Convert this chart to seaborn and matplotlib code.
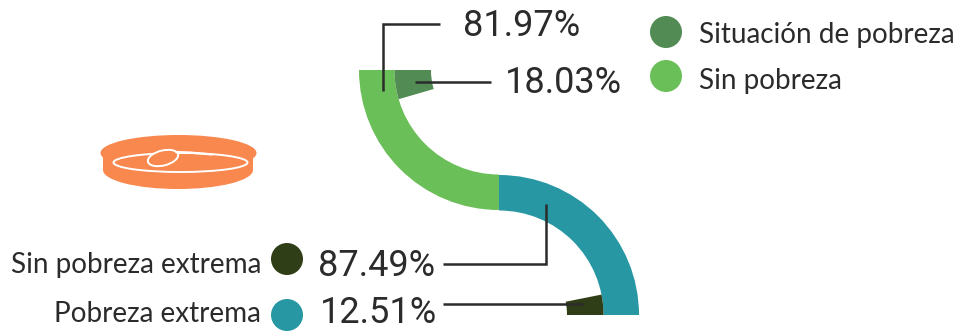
import matplotlib
matplotlib.use("Agg")
import matplotlib.pyplot as plt
import pandas as pd
import seaborn as sns
from matplotlib.patches import Wedge, Ellipse, Rectangle

# Shares of the population, in percent
poverty_labels = ["Situación de pobreza", "Sin pobreza"]
poverty_values = [18.03, 81.97]
extreme_labels = ["Sin pobreza extrema", "Pobreza extrema"]
extreme_values = [87.49, 12.51]

GREEN = "#6BBF59"
DARK_GREEN = "#528B54"
TEAL = "#2697A3"
OLIVE = "#2F3E17"
ORANGE = "#F9884F"
INK = "#2B2B2B"

sns.set_theme(style="white")
plt.rcParams["font.family"] = ["Lato", "DejaVu Sans"]

W, H = 957, 331
fig = plt.figure(figsize=(W / 100, H / 100), dpi=100)
ax = fig.add_axes([0, 0, 1, 1])
ax.set_xlim(0, W)
ax.set_ylim(H, 0)
ax.axis("off")

DEG_PER_PCT = 90 / 100
OUTER, BAND = 140, 35.5
INNER_OUTER, INNER_BAND = 104.5, 36.5


def sweep(*values):
    return sum(values) * DEG_PER_PCT


# Upper quarter ring and its inset wedge
top = (499, 70)
ax.add_patch(Wedge(top, OUTER, 180 - sweep(*poverty_values), 180, width=BAND, fc=GREEN, lw=0))
ax.add_patch(Wedge(top, INNER_OUTER, 180 - sweep(poverty_values[0]), 180,
                   width=INNER_BAND, fc=DARK_GREEN, lw=0))

# Lower quarter ring and its inset wedge
low = (499, 315)
ax.add_patch(Wedge(low, OUTER, 360 - sweep(*extreme_values), 360, width=BAND, fc=TEAL, lw=0))
ax.add_patch(Wedge(low, INNER_OUTER, 360 - sweep(extreme_values[1]), 360,
                   width=INNER_BAND, fc=OLIVE, lw=0))

# Leader lines
for xs, ys in [([440, 383, 383], [24, 24, 91]),
               ([491, 415], [82, 82]),
               ([443, 546, 546], [264, 264, 204]),
               ([443, 583], [304, 304])]:
    ax.plot(xs, ys, color=INK, lw=1.8, solid_joinstyle="miter", solid_capstyle="butt")

# Key dots
dots = pd.DataFrame({
    "x": [666, 666, 287, 287],
    "y": [32, 76, 259, 315],
    "key": poverty_labels + extreme_labels,
})
sns.scatterplot(data=dots, x="x", y="y", hue="key", ax=ax, s=(32 * 0.72) ** 2,
                palette=dict(zip(dots["key"], [DARK_GREEN, GREEN, OLIVE, TEAL])),
                linewidth=0, legend=False, clip_on=False)
ax.set_xlim(0, W)
ax.set_ylim(H, 0)
ax.axis("off")

# Key labels
KEY = dict(fontsize=20.1, color=INK, va="center")
ax.text(699, 34.5, poverty_labels[0], ha="left", **KEY)
ax.text(699, 80.5, poverty_labels[1], ha="left", **KEY)
ax.text(261, 264.5, extreme_labels[0], ha="right", **KEY)
ax.text(261, 313.5, extreme_labels[1], ha="right", **KEY)

# Value labels
VAL = dict(fontsize=26, color=INK, va="center", ha="left", family=["Roboto", "DejaVu Sans"])
ax.text(463, 26, f"{poverty_values[1]:.2f}%", **VAL)
ax.text(505, 83, f"{poverty_values[0]:.2f}%", **VAL)
ax.text(318, 266, f"{extreme_values[0]:.2f}%", **VAL)
ax.text(320, 313, f"{extreme_values[1]:.2f}%", **VAL)

# Plate icon with a spoon
ax.add_patch(Ellipse((178, 170), 150, 38, fc=ORANGE, lw=0))
ax.add_patch(Rectangle((103, 153), 150, 17, fc=ORANGE, lw=0))
ax.add_patch(Ellipse((178.5, 153), 156, 36, fc=ORANGE, lw=0))
ax.add_patch(Ellipse((180.5, 162.5), 134, 19, fc="none", ec="white", lw=1.4))
ax.plot([176, 190, 212], [152, 152.5, 154.5], color="white", lw=1.6)
ax.add_patch(Ellipse((163, 158), 31, 15, angle=-14, fc=ORANGE, ec="white", lw=1.4))

fig.savefig("out.png", dpi=100)
